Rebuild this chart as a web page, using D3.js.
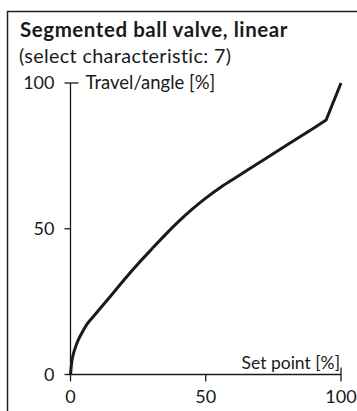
<!DOCTYPE html>
<html><head><meta charset="utf-8">
<script src="https://cdn.jsdelivr.net/npm/d3@7"></script>
<style>body{margin:0;background:#fff}svg{display:block}</style>
</head><body>
<script>
const setPoint = [0, 0.5, 1, 2, 3, 4, 6, 8, 10, 15, 20, 25, 30, 35, 40, 45, 50, 55, 60, 70, 80, 90, 94.5, 100];
const travel   = [0, 4.5, 6.8, 9.8, 12.1, 13.9, 17.1, 19.4, 21.6, 27.1, 32.7, 38, 43, 47.9, 52.5, 56.7, 60.5, 63.9, 66.9, 72.8, 78.7, 84.6, 87.3, 100];
const xTicks = [0, 50, 100];
const yTicks = [0, 50, 100];
const title = "Segmented ball valve, linear";
const subtitle = "(select characteristic: 7)";
const yLabel = "Travel/angle [%]";
const xLabel = "Set point [%]";

const W = 357, H = 411;
const font = "Lato, 'Open Sans', sans-serif";
const ink = "#1a1a1a";
const svg = d3.select("body").append("svg").attr("width", W).attr("height", H);

// frame
svg.append("path").attr("d", `M7.5,${H} V11.5 H${W}`).attr("fill","none").attr("stroke","#222").attr("stroke-width",1.5);

const x = d3.scaleLinear().domain([0,100]).range([70.5, 341]);
const y = d3.scaleLinear().domain([0,100]).range([374.5, 83]);

svg.append("text").attr("x",20).attr("y",37).attr("font-family",font).attr("font-weight","bold")
  .attr("font-size",20.5).attr("letter-spacing",0.55).attr("fill",ink).text(title);
svg.append("text").attr("x",19).attr("y",63).attr("font-family",font)
  .attr("font-size",19.8).attr("letter-spacing",0.35).attr("fill",ink).text(subtitle);

const ax = svg.append("g").attr("stroke",ink).attr("stroke-width",1.3);
ax.append("line").attr("x1",x(0)).attr("x2",x(0)).attr("y1",y(100)).attr("y2",y(0));
ax.append("line").attr("x1",x(0)).attr("x2",x(100)).attr("y1",y(0)).attr("y2",y(0));
yTicks.forEach(t=>{
  ax.append("line").attr("x1",x(0)-6).attr("x2", t===100 ? x(0)+8 : x(0)).attr("y1",y(t)).attr("y2",y(t));
});
xTicks.forEach(t=>{
  ax.append("line").attr("x1",x(t)).attr("x2",x(t)).attr("y1", t===100 ? y(0)-7 : y(0)).attr("y2",y(0)+7);
});

svg.append("g").selectAll("text").data(yTicks).join("text")
  .attr("x", x(0)-16).attr("y", d=>y(d)+6).attr("text-anchor","end")
  .attr("font-family",font).attr("font-size",18).attr("fill",ink).text(d=>d);
svg.append("g").selectAll("text").data(xTicks).join("text")
  .attr("x", d=>x(d)).attr("y", y(0)+28).attr("text-anchor","middle")
  .attr("font-family",font).attr("font-size",18).attr("fill",ink).text(d=>d);

svg.append("text").attr("x",x(0)+15).attr("y",y(100)+6).attr("font-family",font)
  .attr("font-size",18.5).attr("fill",ink).text(yLabel);
svg.append("text").attr("x",x(100)-1).attr("y",y(0)-6).attr("text-anchor","end").attr("font-family",font)
  .attr("font-size",17.5).attr("fill",ink).text(xLabel);

// smooth part (monotone) followed by a straight final segment with a sharp kink
const n = setPoint.length;
const pts = setPoint.map((s,i)=>[x(s), y(travel[i])]);
const smooth = d3.line().curve(d3.curveMonotoneX)(pts.slice(0, n-1));
const tail = d3.line()(pts.slice(n-2)).replace(/^M[^L]*/, "");
svg.append("path").attr("d", smooth + tail).attr("fill","none")
  .attr("stroke",ink).attr("stroke-width",3).attr("stroke-linejoin","miter");
</script>
</body></html>
